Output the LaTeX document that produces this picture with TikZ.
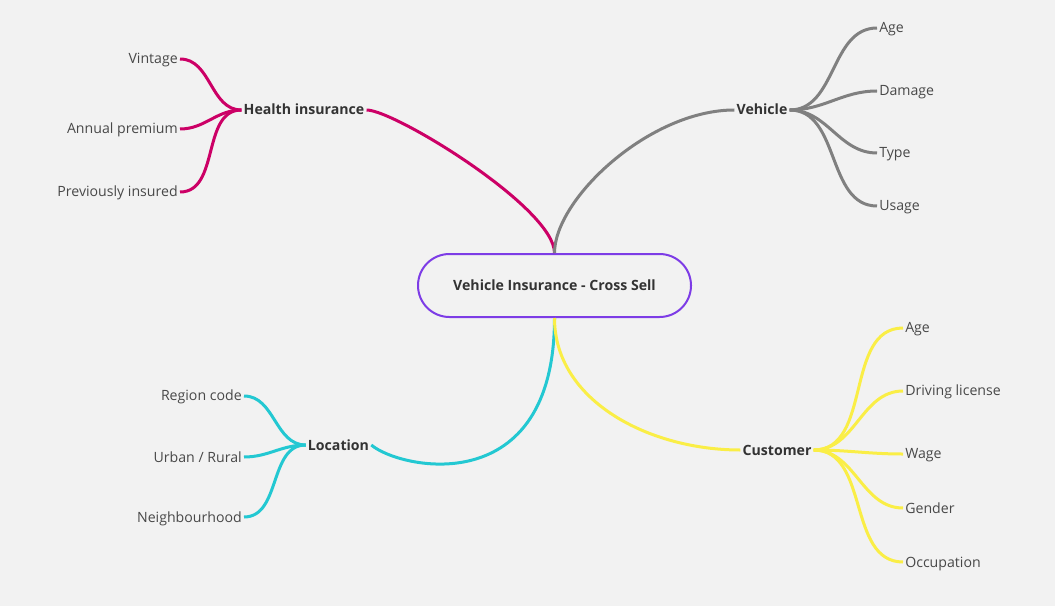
\documentclass[tikz,border=0pt]{standalone}
\usepackage{fontspec}
\setmainfont{Open Sans}
\usepackage{tikz}
\usepackage{xcolor}

\definecolor{paper}{RGB}{242,242,242}
\definecolor{inktext}{RGB}{51,51,51}
\definecolor{leaftext}{RGB}{72,72,72}
\definecolor{rootpurple}{RGB}{125,60,230}
\definecolor{healthpink}{RGB}{204,0,102}
\definecolor{vehiclegray}{RGB}{128,128,128}
\definecolor{locationcyan}{RGB}{35,200,210}
\definecolor{customeryellow}{RGB}{250,238,70}

\begin{document}
\begin{tikzpicture}[x=0.75pt,y=-0.75pt,
  every node/.style={font=\fontsize{10.6pt}{12pt}\selectfont,text height=1.7ex,text depth=0.3ex},
  rootbox/.style={draw=rootpurple,line width=1.5pt,fill=paper,rounded corners=23.6pt,
    minimum width=204.75pt,minimum height=47.25pt,text=inktext,font=\fontsize{10.6pt}{12pt}\selectfont\bfseries},
  branch/.style={inner sep=1.5pt,text=inktext,font=\fontsize{10.6pt}{12pt}\selectfont\bfseries},
  leaf/.style={inner sep=1.5pt,text=leaftext},
  link/.style={line width=2.25pt},
  twigleft/.style={line width=2.25pt,out=180,in=0},
  twigright/.style={line width=2.25pt,out=0,in=180}]
\fill[paper] (0,0) rectangle (1055,606);

\node[rootbox] (root) at (554.5,285.5) {Vehicle Insurance - Cross Sell};

\node[branch] (health) at (304,110) {Health insurance};
\node[branch] (vehicle) at (762,110) {Vehicle};
\node[branch] (location) at (338.5,445) {Location};
\node[branch] (customer) at (777,450) {Customer};

\node[leaf,anchor=east] (vintage) at (180,59) {Vintage};
\node[leaf,anchor=east] (premium) at (180,129) {Annual premium};
\node[leaf,anchor=east] (insured) at (180,192) {Previously insured};

\node[leaf,anchor=west] (vage) at (877,28) {Age};
\node[leaf,anchor=west] (damage) at (877,91) {Damage};
\node[leaf,anchor=west] (vtype) at (877,153) {Type};
\node[leaf,anchor=west] (usage) at (877,206) {Usage};

\node[leaf,anchor=east] (region) at (244,396) {Region code};
\node[leaf,anchor=east] (urban) at (244,457) {Urban / Rural};
\node[leaf,anchor=east] (neighbour) at (244,517) {Neighbourhood};

\node[leaf,anchor=west] (cage) at (903,328) {Age};
\node[leaf,anchor=west] (license) at (903,391) {Driving license};
\node[leaf,anchor=west] (wage) at (903,454) {Wage};
\node[leaf,anchor=west] (gender) at (903,508) {Gender};
\node[leaf,anchor=west] (occupation) at (903,562) {Occupation};

\draw[link,healthpink] (root.north) .. controls +(0,-45) and +(28,0) .. (health.east);
\draw[link,vehiclegray] (root.north) .. controls +(0,-54) and +(-85,0) .. (vehicle.west);
\draw[link,locationcyan] (root.south) .. controls +(0,183) and +(30,25) .. (location.east);
\draw[link,customeryellow] (root.south) .. controls +(0,83) and +(-91,0) .. (customer.west);

\draw[twigleft,healthpink] (health.west) to (vintage.east);
\draw[twigleft,healthpink] (health.west) to (premium.east);
\draw[twigleft,healthpink] (health.west) to (insured.east);

\draw[twigright,vehiclegray] (vehicle.east) to (vage.west);
\draw[twigright,vehiclegray] (vehicle.east) to (damage.west);
\draw[twigright,vehiclegray] (vehicle.east) to (vtype.west);
\draw[twigright,vehiclegray] (vehicle.east) to (usage.west);

\draw[twigleft,locationcyan] (location.west) to (region.east);
\draw[twigleft,locationcyan] (location.west) to (urban.east);
\draw[twigleft,locationcyan] (location.west) to (neighbour.east);

\draw[twigright,customeryellow] (customer.east) to (cage.west);
\draw[twigright,customeryellow] (customer.east) to (license.west);
\draw[twigright,customeryellow] (customer.east) to (wage.west);
\draw[twigright,customeryellow] (customer.east) to (gender.west);
\draw[twigright,customeryellow] (customer.east) to (occupation.west);
\end{tikzpicture}
\end{document}
